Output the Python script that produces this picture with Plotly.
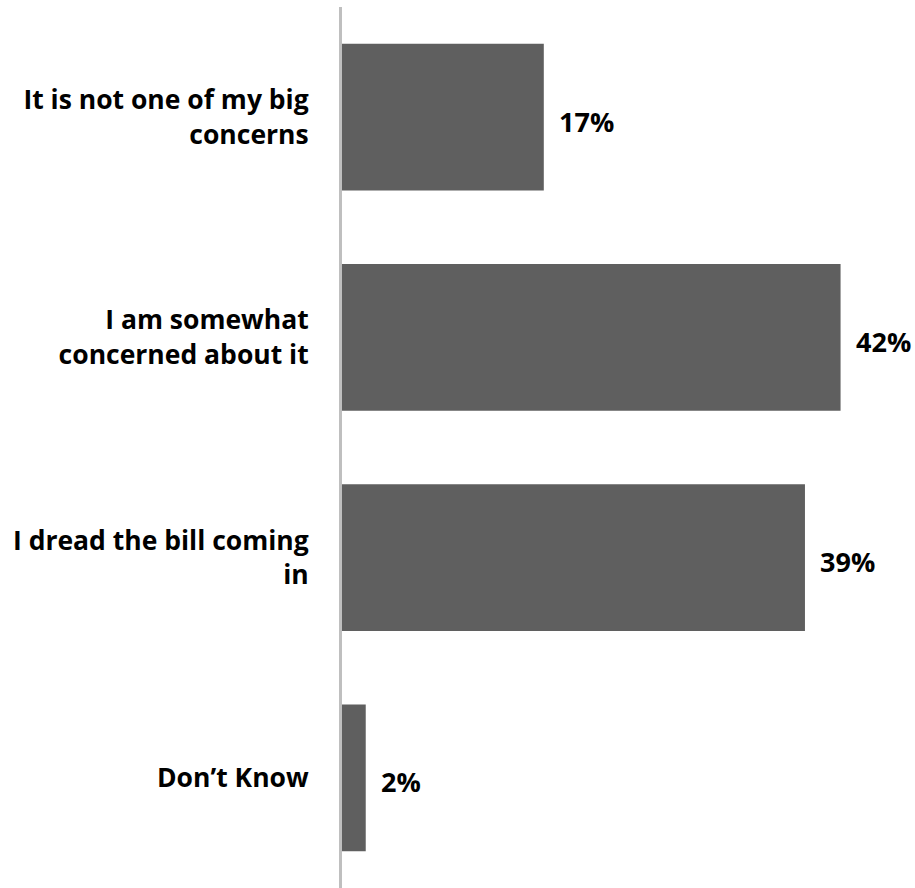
import plotly.graph_objects as go

# Survey responses, top to bottom
categories = [
    "It is not one of my big<br>concerns",
    "I am somewhat<br>concerned about it",
    "I dread the bill coming<br>in",
    "Don\u2019t Know",
]
values = [17, 42, 39, 2]
value_labels = ["17%", "42%", "39%", "2%"]

BAR_COLOR = "#5f5f5f"
FONT = "Open Sans"

fig = go.Figure(
    go.Bar(
        x=values,
        y=categories,
        orientation="h",
        marker=dict(color=BAR_COLOR, line=dict(width=0)),
        hoverinfo="skip",
    )
)

# value labels just to the right of each bar
for v, c, lab in zip(values, categories, value_labels):
    fig.add_annotation(
        x=v, y=c, text=f"<b>{lab}</b>", showarrow=False,
        xanchor="left", yanchor="middle", xshift=13, yshift=-4,
        font=dict(family=FONT, size=27, color="#000000"),
    )

fig.update_layout(
    width=915, height=888,
    margin=dict(l=342, r=0, t=7, b=0),
    paper_bgcolor="white", plot_bgcolor="white",
    bargap=0.334,
    showlegend=False,
    font=dict(family=FONT, size=23, color="#000000"),
)
fig.update_xaxes(
    range=[0, 48.27], showgrid=False, zeroline=False,
    showline=False, showticklabels=False, ticks="",
)
fig.update_yaxes(
    autorange="reversed", showgrid=False, zeroline=False,
    showline=True, linecolor="#bfbfbf", linewidth=3,
    ticks="", ticklabelstandoff=25,
    tickfont=dict(family=FONT, size=26.5, color="#000000", weight="bold"),
)

fig.write_html("out.html")
